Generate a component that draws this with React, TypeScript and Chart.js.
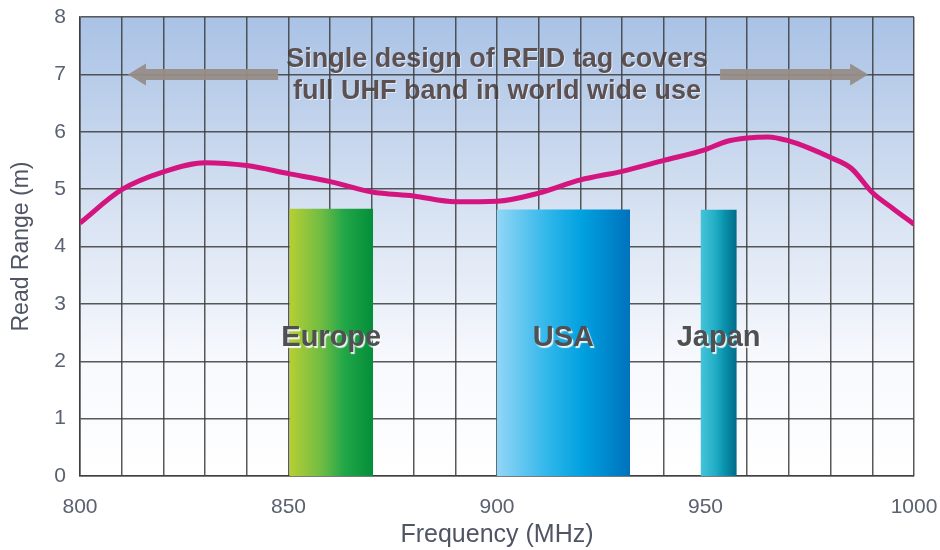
import React, { useEffect, useRef } from 'react';
import { Chart, registerables } from 'chart.js';

Chart.register(...registerables);

// ---- data ----
const xTickLabels = [800, 850, 900, 950, 1000];
const curveFreq = [800, 810, 820, 830, 840, 850, 860, 870, 880, 890, 900, 910, 920, 930, 940, 950, 955, 960, 965, 970, 975, 980, 985, 990, 995, 1000];
const curveRange = [4.41, 4.99, 5.3, 5.46, 5.41, 5.27, 5.13, 4.95, 4.88, 4.78, 4.79, 4.93, 5.16, 5.31, 5.5, 5.69, 5.83, 5.89, 5.91, 5.84, 5.71, 5.55, 5.36, 4.94, 4.66, 4.39];

const regionNames = ['Europe', 'USA', 'Japan'];
const regionStart = [850.2, 899.9, 948.8];
const regionEnd = [870.3, 931.9, 957.5];
const regionTop = [4.66, 4.645, 4.64];
const regionLabelY = 2.4;

const headline = ['Single design of RFID tag covers', 'full UHF band in world wide use'];
const headlineX = 900;
const headlineY = [7.13, 6.57];

const arrowY = 7;
const leftArrow = [847.5, 811.5]; // tail, tip
const rightArrow = [953.5, 989]; // tail, tip

// ---- styles ----
const FONT = '"Liberation Sans", Arial, Helvetica, sans-serif';
const regionColors = [
  ['#b6cf33', '#6cbb44', '#22a748', '#048e3a'],
  ['#93d6f6', '#2cb5ea', '#00a0df', '#0072bd'],
  ['#46c3d9', '#22afc6', '#0a93ad', '#006a8a'],
];
const gridColor = 'rgba(60,60,60,0.85)';
const tickColor = '#5a6170';
const titleColor = '#4f5565';

const makeRegionFill = (i: number) => (ctx: any) => {
  const chart = ctx.chart;
  const xs = chart.scales && chart.scales.x;
  if (!chart.chartArea || !xs) return regionColors[i][2];
  const x0 = xs.getPixelForValue(regionStart[i]);
  const x1 = xs.getPixelForValue(regionEnd[i]);
  const g = chart.ctx.createLinearGradient(x0, 0, x1, 0);
  const c = regionColors[i];
  g.addColorStop(0, c[0]);
  g.addColorStop(0.4, c[1]);
  g.addColorStop(0.65, c[2]);
  g.addColorStop(1, c[3]);
  return g;
};

function drawArrow(ctx: CanvasRenderingContext2D, xTail: number, xTip: number, y: number) {
  const dir = xTip > xTail ? 1 : -1;
  const headLen = 18;
  const shaft = 5.5;
  const head = 11;
  const xBase = xTip - dir * headLen;
  ctx.beginPath();
  ctx.moveTo(xTail, y - shaft);
  ctx.lineTo(xBase, y - shaft);
  ctx.lineTo(xBase, y - head);
  ctx.lineTo(xTip, y);
  ctx.lineTo(xBase, y + head);
  ctx.lineTo(xBase, y + shaft);
  ctx.lineTo(xTail, y + shaft);
  ctx.closePath();
  ctx.fill();
}

const decorPlugin = {
  id: 'decor',
  beforeDraw(chart: any) {
    const { ctx, chartArea: a, scales } = chart;
    if (!a) return;
    ctx.save();
    const g = ctx.createLinearGradient(0, a.top, 0, a.bottom);
    g.addColorStop(0, '#a9c2e5');
    g.addColorStop(0.45, '#dae4f3');
    g.addColorStop(0.75, '#f7f9fd');
    g.addColorStop(1, '#ffffff');
    ctx.fillStyle = g;
    ctx.fillRect(a.left, a.top, a.right - a.left, a.bottom - a.top);

    ctx.font = `bold 27px ${FONT}`;
    ctx.textAlign = 'center';
    ctx.textBaseline = 'alphabetic';
    ctx.shadowColor = 'rgba(255,255,255,0.6)';
    ctx.shadowOffsetX = 1;
    ctx.shadowOffsetY = 1;
    ctx.fillStyle = '#5b5152';
    headline.forEach((t, i) => {
      ctx.fillText(t, scales.x.getPixelForValue(headlineX), scales.y.getPixelForValue(headlineY[i]));
    });
    ctx.restore();
  },
  afterDatasetsDraw(chart: any) {
    const { ctx, scales } = chart;
    const xs = scales.x;
    const ys = scales.y;
    ctx.save();
    ctx.fillStyle = 'rgba(150,140,136,0.95)';
    const ay = ys.getPixelForValue(arrowY);
    drawArrow(ctx, xs.getPixelForValue(leftArrow[0]), xs.getPixelForValue(leftArrow[1]), ay);
    drawArrow(ctx, xs.getPixelForValue(rightArrow[0]), xs.getPixelForValue(rightArrow[1]), ay);

    ctx.font = `bold 29px ${FONT}`;
    ctx.textAlign = 'center';
    ctx.textBaseline = 'middle';
    ctx.shadowColor = 'rgba(255,255,255,0.9)';
    ctx.shadowOffsetX = 1.5;
    ctx.shadowOffsetY = 1.5;
    ctx.shadowBlur = 1;
    ctx.fillStyle = '#505053';
    regionNames.forEach((n, i) => {
      const cx = xs.getPixelForValue((regionStart[i] + regionEnd[i]) / 2);
      ctx.fillText(n, cx, ys.getPixelForValue(regionLabelY));
    });
    ctx.restore();
  },
};

export default function App() {
  const ref = useRef<HTMLCanvasElement | null>(null);
  useEffect(() => {
    document.body.style.margin = '0';
    const canvas = ref.current;
    if (!canvas) return;
    const chart = new Chart(canvas, {
      type: 'line',
      data: {
        datasets: [
          ...regionNames.map((n, i) => ({
            label: n,
            data: [
              { x: regionStart[i], y: regionTop[i] },
              { x: regionEnd[i], y: regionTop[i] },
            ],
            fill: 'origin',
            backgroundColor: makeRegionFill(i),
            borderColor: 'rgba(0,0,0,0)',
            borderWidth: 0,
            pointRadius: 0,
            tension: 0,
          })),
          {
            label: 'Read range',
            data: curveFreq.map((f, i) => ({ x: f, y: curveRange[i] })),
            borderColor: '#d4157f',
            borderWidth: 5,
            pointRadius: 0,
            fill: false,
            cubicInterpolationMode: 'monotone',
          },
        ],
      } as any,
      options: {
        animation: false,
        responsive: false,
        events: [],
        layout: { padding: { top: 17, right: 26, left: 0, bottom: 0 } },
        plugins: { legend: { display: false }, tooltip: { enabled: false } },
        scales: {
          x: {
            type: 'linear',
            min: 800,
            max: 1000,
            ticks: {
              stepSize: 10,
              autoSkip: false,
              maxRotation: 0,
              padding: 19,
              color: tickColor,
              font: { size: 21, family: FONT },
              callback: (v: any) => (xTickLabels.includes(Number(v)) ? String(v) : ''),
            },
            grid: { color: gridColor, lineWidth: 1.5, drawTicks: false },
            border: { color: gridColor, width: 1.5 },
            title: {
              display: true,
              text: 'Frequency (MHz)',
              color: titleColor,
              font: { size: 25, family: FONT },
              padding: { top: 0, bottom: 0 },
            },
            afterFit: (s: any) => {
              s.height = 74;
              s.paddingLeft = 0;
              s.paddingRight = 0;
            },
          },
          y: {
            min: 0,
            max: 8,
            ticks: {
              stepSize: 1,
              padding: 14,
              color: tickColor,
              font: { size: 21, family: FONT },
            },
            grid: { color: gridColor, lineWidth: 1.5, drawTicks: false },
            border: { color: gridColor, width: 1.5 },
            title: {
              display: true,
              text: 'Read Range (m)',
              color: titleColor,
              font: { size: 23, family: FONT },
              padding: { top: 8, bottom: 0 },
            },
            afterFit: (s: any) => {
              s.width = 80;
              s.paddingTop = 0;
              s.paddingBottom = 0;
            },
          },
        },
      } as any,
      plugins: [decorPlugin],
    });
    return () => chart.destroy();
  }, []);
  return (
    <div style={{ width: 940, height: 550 }}>
      <canvas ref={ref} width={940} height={550} style={{ display: 'block' }} />
    </div>
  );
}
